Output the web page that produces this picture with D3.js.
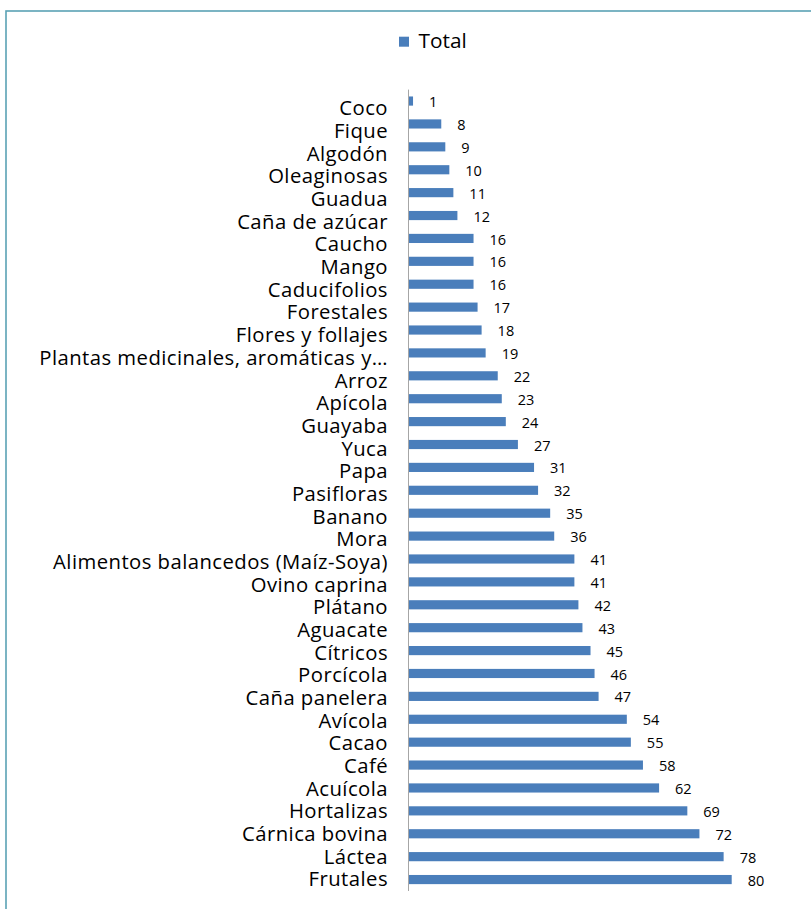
<!DOCTYPE html>
<html>
<head>
<meta charset="utf-8">
<script src="https://cdn.jsdelivr.net/npm/d3@7"></script>
<style>
  html, body { margin: 0; padding: 0; background: #fff; }
  svg { display: block; }
</style>
</head>
<body>
<svg id="chart" width="811" height="909"></svg>
<script>
// Number of projects per productive chain
const categories = [
  "Coco", "Fique", "Algodón", "Oleaginosas", "Guadua", "Caña de azúcar",
  "Caucho", "Mango", "Caducifolios", "Forestales", "Flores y follajes",
  "Plantas medicinales, aromáticas y…", "Arroz", "Apícola", "Guayaba", "Yuca",
  "Papa", "Pasifloras", "Banano", "Mora", "Alimentos balancedos (Maíz-Soya)",
  "Ovino caprina", "Plátano", "Aguacate", "Cítricos", "Porcícola",
  "Caña panelera", "Avícola", "Cacao", "Café", "Acuícola", "Hortalizas",
  "Cárnica bovina", "Láctea", "Frutales"
];
const totals = [
  1, 8, 9, 10, 11, 12,
  16, 16, 16, 17, 18,
  19, 22, 23, 24, 27,
  31, 32, 35, 36, 41,
  41, 42, 43, 45, 46,
  47, 54, 55, 58, 62, 69,
  72, 78, 80
];
const seriesName = "Total";

const barColor = "#4a7ebb";
const svg = d3.select("#chart");

// frame around the chart area
svg.append("rect")
  .attr("x", 6).attr("y", 11)
  .attr("width", 900).attr("height", 1000)
  .attr("fill", "none")
  .attr("stroke", "#5aa2b5")
  .attr("stroke-width", 1.6);

const data = categories.map((c, i) => ({ cat: c, val: totals[i] }));

// scales
const x = d3.scaleLinear().domain([0, 80]).range([409, 731.7]);
const y = d3.scaleBand()
  .domain(categories)
  .range([89.6, 891])
  .paddingInner(0.6)
  .paddingOuter(0.3);
// category labels run on a slightly tighter spacing than the bars
const yLabel = d3.scalePoint()
  .domain(categories)
  .range([108.4, 879.4]);

// bars
svg.append("g")
  .selectAll("rect")
  .data(data)
  .join("rect")
  .attr("x", x(0))
  .attr("y", d => y(d.cat))
  .attr("width", d => x(d.val) - x(0))
  .attr("height", y.bandwidth())
  .attr("fill", barColor);

// value labels
svg.append("g")
  .selectAll("text")
  .data(data)
  .join("text")
  .attr("x", d => x(d.val) + 16)
  .attr("y", d => y(d.cat) + y.bandwidth() / 2 + 1)
  .attr("dy", "0.35em")
  .attr("font-family", "'Open Sans', sans-serif")
  .attr("font-size", 14.5)
  .attr("fill", "#000")
  .text(d => d.val);

// category axis
const axis = svg.append("g")
  .attr("transform", "translate(408,0)")
  .call(d3.axisLeft(yLabel).tickSize(0).tickPadding(20));
axis.select(".domain").remove();
axis.selectAll("text")
  .attr("font-family", "'Open Sans', sans-serif")
  .attr("font-size", 20.3)
  .attr("letter-spacing", 0.45)
  .attr("fill", "#000");

// axis line spanning the bar range
svg.append("line")
  .attr("x1", 408.5).attr("x2", 408.5)
  .attr("y1", y.range()[0]).attr("y2", y.range()[1])
  .attr("stroke", "#a6a6a6")
  .attr("stroke-width", 1);

// legend
const legend = svg.append("g");
legend.append("rect")
  .attr("x", 399).attr("y", 36.7)
  .attr("width", 10).attr("height", 10)
  .attr("fill", barColor);
legend.append("text")
  .attr("x", 418.5).attr("y", 48.3)
  .attr("font-family", "'Open Sans', sans-serif")
  .attr("font-size", 20.8)
  .attr("fill", "#000")
  .text(seriesName);
</script>
</body>
</html>
